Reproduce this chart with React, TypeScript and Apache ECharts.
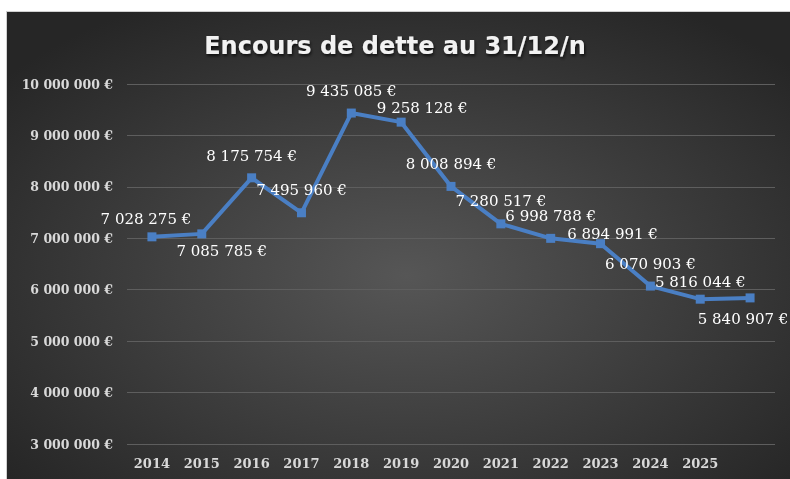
import React, { useEffect, useRef } from "react";
import * as echarts from "echarts";

const TITLE = "Encours de dette au 31/12/n";
const categories = ["2014", "2015", "2016", "2017", "2018", "2019", "2020", "2021", "2022", "2023", "2024", "2025", ""];
const debtValues = [7028275, 7085785, 8175754, 7495960, 9435085, 9258128, 8008894, 7280517, 6998788, 6894991, 6070903, 5816044, 5840907];
const yMin = 3000000;
const yMax = 10000000;
const yStep = 1000000;

// label placement offsets (layout only)
const labelOffsets: [number, number][] = [
  [-6, -18], [20, 17], [0, -22], [0, -23], [0, -22], [21, -14], [0, -22],
  [0, -23], [0, -22], [12, -10], [0, -22], [0, -17], [-7, 21],
];

const fmt = (v: number) =>
  String(Math.round(v)).replace(/\B(?=(\d{3})+(?!\d))/g, " ") + " €";

export default function App() {
  const ref = useRef<HTMLDivElement>(null);
  useEffect(() => {
    document.body.style.margin = "0";
    const chart = echarts.init(ref.current!, undefined, { renderer: "svg" });
    const data = debtValues.map((v, i) => ({
      value: v,
      label: { offset: labelOffsets[i] },
    }));
    chart.setOption({
      animation: false,
      graphic: [
        {
          type: "rect",
          z: -10,
          silent: true,
          shape: { x: 6.5, y: 11.5, width: 800, height: 480 },
          style: {
            fill: new echarts.graphic.RadialGradient(0.5, 0.55, 0.65, [
              { offset: 0, color: "#565656" },
              { offset: 1, color: "#262626" },
            ]),
            stroke: "#d0d0d0",
            lineWidth: 1,
          },
        },
      ],
      title: {
        text: TITLE,
        left: "center",
        top: 29,
        textStyle: {
          fontFamily: "DejaVu Sans",
          fontWeight: "bold",
          fontSize: 24,
          color: "#f2f2f2",
          textShadowColor: "rgba(0,0,0,0.7)",
          textShadowBlur: 3,
          textShadowOffsetX: 1,
          textShadowOffsetY: 2,
        },
      },
      grid: { left: 127, right: 15, top: 84, bottom: 35, containLabel: false },
      xAxis: {
        type: "category",
        data: categories,
        boundaryGap: true,
        axisLine: { show: false },
        axisTick: { show: false },
        axisLabel: {
          interval: 0,
          margin: 13,
          color: "#d9d9d9",
          fontFamily: "DejaVu Serif",
          fontWeight: "bold",
          fontSize: 13,
        },
      },
      yAxis: {
        type: "value",
        min: yMin,
        max: yMax,
        interval: yStep,
        axisLine: { show: false },
        axisTick: { show: false },
        splitLine: { lineStyle: { color: "#5e5e5e", width: 1 } },
        axisLabel: {
          margin: 14,
          color: "#d9d9d9",
          fontFamily: "DejaVu Serif",
          fontWeight: "bold",
          fontSize: 12.5,
          formatter: (v: number) => fmt(v),
        },
      },
      series: [
        {
          type: "line",
          data,
          symbol: "rect",
          symbolSize: 9,
          lineStyle: { color: "#4a7fc4", width: 4 },
          itemStyle: { color: "#4a7fc4" },
          label: {
            show: true,
            position: "inside",
            color: "#ffffff",
            fontFamily: "DejaVu Serif",
            fontSize: 15,
            formatter: (p: any) => fmt(p.value),
          },
        },
      ],
    });
    return () => chart.dispose();
  }, []);
  return (
    <div
      ref={ref}
      style={{ position: "fixed", left: 0, top: 0, width: 790, height: 479 }}
    />
  );
}
